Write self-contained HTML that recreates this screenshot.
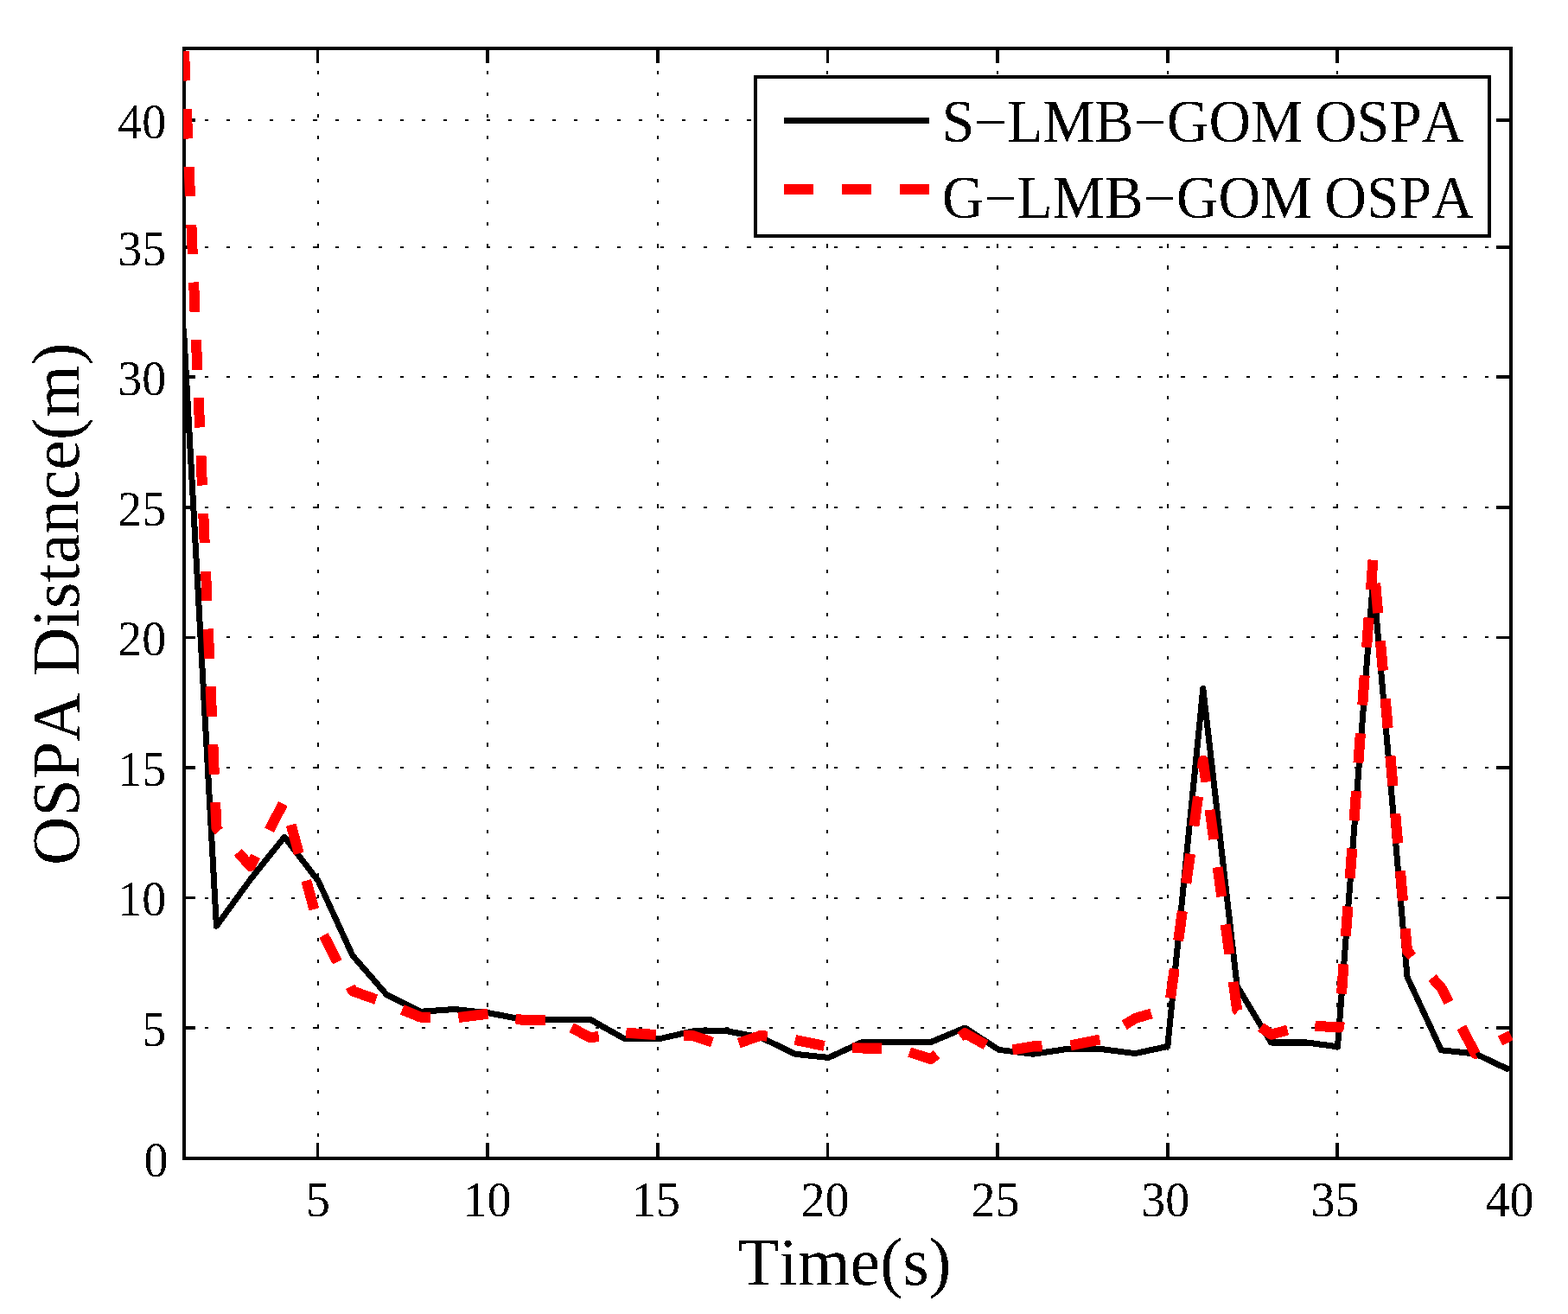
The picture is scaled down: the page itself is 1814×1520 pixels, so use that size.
<!DOCTYPE html><html><head><meta charset="utf-8"><title>OSPA Distance</title><style>html,body{margin:0;padding:0;background:#fff;}svg{display:block;}text{font-family:"Liberation Serif","Times New Roman",serif;fill:#000;font-kerning:none;}</style></head><body>
<svg width="1814" height="1520" viewBox="0 0 1814 1520">
<rect x="0" y="0" width="1814" height="1520" fill="#fff"/>
<defs><clipPath id="c"><rect x="212" y="40" width="1540" height="1305"/></clipPath><filter id="a" x="0" y="0" width="1814" height="1520" filterUnits="userSpaceOnUse" color-interpolation-filters="sRGB"><feComponentTransfer><feFuncA type="discrete" tableValues="0 1"/></feComponentTransfer></filter></defs>
<g filter="url(#a)">
<path d="M211.9 1189H1746M211.9 1039H1746M211.9 888H1746M211.9 737H1746M211.9 587H1746M211.9 436H1746M211.9 286H1746M211.9 139H1746" stroke="#000" stroke-width="2" stroke-dasharray="4 21.1" fill="none"/>
<path d="M368 56.6V1338M564 56.6V1338M761 56.6V1338M957 56.6V1338M1154 56.6V1338M1351 56.6V1338M1547 56.6V1338" stroke="#000" stroke-width="2" stroke-dasharray="4 21.088" fill="none"/>
<path d="M367.5 1340V1322M367.5 56V72.5" stroke="#000" stroke-width="3" fill="none"/>
<path d="M564 1340V1322M564 56V72.5" stroke="#000" stroke-width="4" fill="none"/>
<path d="M761 1340V1322M761 56V72.5" stroke="#000" stroke-width="4" fill="none"/>
<path d="M957.5 1340V1322M957.5 56V72.5" stroke="#000" stroke-width="3" fill="none"/>
<path d="M1154 1340V1322M1154 56V72.5" stroke="#000" stroke-width="4" fill="none"/>
<path d="M1351 1340V1322M1351 56V72.5" stroke="#000" stroke-width="4" fill="none"/>
<path d="M1547 1340V1322M1547 56V72.5" stroke="#000" stroke-width="4" fill="none"/>
<path d="M213 1189H226M1748 1189H1731" stroke="#000" stroke-width="4" fill="none"/>
<path d="M213 1038.5H226M1748 1038.5H1731" stroke="#000" stroke-width="3" fill="none"/>
<path d="M213 888H226M1748 888H1731" stroke="#000" stroke-width="4" fill="none"/>
<path d="M213 737.5H226M1748 737.5H1731" stroke="#000" stroke-width="3" fill="none"/>
<path d="M213 587H226M1748 587H1731" stroke="#000" stroke-width="4" fill="none"/>
<path d="M213 436H226M1748 436H1731" stroke="#000" stroke-width="4" fill="none"/>
<path d="M213 286H226M1748 286H1731" stroke="#000" stroke-width="4" fill="none"/>
<path d="M213 139H226M1748 139H1731" stroke="#000" stroke-width="4" fill="none"/>
<rect x="213" y="56" width="1535" height="1284" stroke="#000" stroke-width="4" fill="none"/>
<g clip-path="url(#c)"><polyline points="212.4,380.4 250.4,1071.3 289.7,1017.3 329.1,968.1 368.4,1019.4 407.8,1105.2 447.2,1150.5 486.5,1170.3 525.9,1167.6 565.2,1171.8 604.6,1179.3 644.0,1179.6 683.3,1179.6 722.7,1201.8 762.0,1201.8 801.4,1192.8 840.8,1192.8 880.1,1200.0 919.5,1219.2 958.8,1223.4 998.2,1205.1 1037.6,1205.4 1076.9,1205.4 1116.3,1188.9 1155.6,1214.4 1195.0,1219.2 1234.4,1213.5 1273.7,1213.5 1313.1,1218.6 1350.8,1210.5 1391.8,796.5 1431.2,1140.9 1470.5,1206.0 1509.9,1205.7 1547.5,1210.8 1588.6,669.9 1628.0,1130.1 1667.3,1214.7 1706.7,1218.9 1746.0,1237.5" fill="none" stroke="#000" stroke-width="7" stroke-linejoin="round"/>
<polyline points="213,59.1 250.4,957.9 289.7,1002.0 329.1,926.4 368.4,1070.4 407.8,1146.3 447.2,1160.4 486.5,1176.6 525.9,1177.5 565.2,1172.7 604.6,1179.9 644.0,1180.2 683.3,1200.3 722.7,1194.6 762.0,1197.3 801.4,1197.9 840.8,1211.4 880.1,1197.9 919.5,1202.7 958.8,1211.1 998.2,1212.6 1037.6,1212.6 1076.9,1224.9 1116.3,1195.2 1155.6,1217.1 1195.0,1210.5 1234.4,1210.2 1273.7,1202.4 1313.1,1178.1 1352.4,1166.4 1391.8,879.9 1431.2,1168.8 1470.5,1196.7 1509.9,1185.9 1549.2,1188.6 1588.6,645.0 1628.0,1100.1 1667.3,1142.4 1706.7,1218.9 1748,1197.6" fill="none" stroke="#f00" stroke-width="12" stroke-dasharray="34.5 32.4 34.5 32.4 34.5 32.4 34.5 32.4 34.5 32.4 34.5 32.4 34.5 32.4 34.5 32.4 34.5 32.4 34.5 32.4 34.5 32.4 34.5 32.4 34.5 32.4 34.5 32.86 34.5 34.14 34.5 32.38 34.5 32.38 34.5 32.38 34.5 32.38 34.5 32.38 34.5 32.38 34.5 32.38 34.5 32.38 34.5 31.84 34.5 31.97 34.5 32.44 34.5 32.44 34.5 32.44 34.5 32.44 34.5 34.1 34.5 33.22 34.5 33.06 34.5 33.0 34.5 33.0 34.5 32.64 34.5 32.42 34.5 32.42 34.5 32.42 34.5 32.42 34.5 32.42 34.5 32.42 34.5 32.42 34.5 32.42 34.5 32.44 34.5 32.45 34.5 32.45 34.5 32.45 34.5 32.45 34.5 32.45 34.5 32.51 34.5 32.53 34.5 32.53 34.5 32.53 34.5 32.48 34.5 32.27 34.5 32.27 34.5 32.27 34.5 32.27 34.5 32.27 34.5 33.98 34.5 32.47 34.5 32.47 34.5 32.45 34.5 32.4 34.5 32.4 34.5 32.4 34.5 32.4 34.5 32.4 34.5 32.4" stroke-linejoin="round"/></g>
<text x="367.9" y="1406.5" font-size="56" text-anchor="middle">5</text>
<text x="563.4" y="1406.5" font-size="56" text-anchor="middle">10</text>
<text x="759" y="1406.5" font-size="56" text-anchor="middle">15</text>
<text x="954.6" y="1406.5" font-size="56" text-anchor="middle">20</text>
<text x="1151.6" y="1406.5" font-size="56" text-anchor="middle">25</text>
<text x="1348.2" y="1406.5" font-size="56" text-anchor="middle">30</text>
<text x="1544.5" y="1406.5" font-size="56" text-anchor="middle">35</text>
<text x="1746.5" y="1406.5" font-size="56" text-anchor="middle">40</text>
<text x="194.4" y="1360.7" font-size="56" text-anchor="end">0</text>
<text x="192.2" y="1209.9" font-size="56" text-anchor="end">5</text>
<text x="192.2" y="1059.4" font-size="56" text-anchor="end">10</text>
<text x="192.2" y="908.9" font-size="56" text-anchor="end">15</text>
<text x="192.2" y="758.4" font-size="56" text-anchor="end">20</text>
<text x="192.2" y="607.9" font-size="56" text-anchor="end">25</text>
<text x="192.2" y="456.9" font-size="56" text-anchor="end">30</text>
<text x="192.2" y="306.9" font-size="56" text-anchor="end">35</text>
<text x="192.2" y="159.9" font-size="56" text-anchor="end">40</text>
<text x="853.6" y="1485.9" font-size="78">Time(s)</text>
<text transform="translate(90.8 1000.9) rotate(-90)" font-size="78">OSPA Distance(m)</text>
</g>
<rect x="874" y="89" width="849" height="183.5" fill="#fff"/>
<g filter="url(#a)">
<rect x="874" y="89" width="849" height="183.6" fill="none" stroke="#000" stroke-width="4"/>
<path d="M907.1 139.5H1075" stroke="#000" stroke-width="7"/>
<path d="M907.1 218.9H941M974.1 218.9H1008M1041.1 218.9H1075" stroke="#f00" stroke-width="12"/>
<text transform="translate(1089.7 164) scale(1 1.018)" font-size="67.5" word-spacing="-3">S−LMB−GOM OSPA</text>
<text transform="translate(1089.7 252) scale(1 1.018)" font-size="67.5" word-spacing="-3">G−LMB−GOM OSPA</text>
</g>
</svg></body></html>
